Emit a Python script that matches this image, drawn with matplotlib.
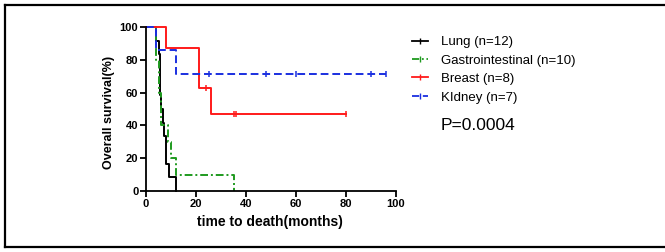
import numpy as np
import matplotlib.pyplot as plt
from matplotlib.lines import Line2D

plt.rcParams['font.family'] = ['Liberation Sans', 'DejaVu Sans']

# survival data (months, 1 = death, 0 = censored)
lung_t = [4, 5, 5.5, 5.5, 5.5, 6, 6.7, 7, 8, 8, 9, 12]
lung_e = [1, 1, 1, 1, 1, 1, 1, 1, 1, 1, 1, 1]
gi_t = [4, 4, 5, 5, 6, 6, 8.7, 10, 12, 35]
gi_e = [1, 1, 1, 1, 1, 1, 1, 1, 1, 1]
breast_t = [8, 21, 21, 24, 26, 35, 36, 80]
breast_e = [1, 1, 1, 0, 1, 0, 0, 0]
kidney_t = [4, 12, 25, 48, 60, 90, 96]
kidney_e = [1, 1, 0, 0, 0, 0, 0]

labels = ['Lung (n=12)', 'Gastrointestinal (n=10)', 'Breast (n=8)', 'KIdney (n=7)']
colors = ['black', '#1f9a1f', '#ff1a1a', '#1a2fe0']
styles = ['-', (0, (4, 1.5, 1, 1.5)), '-', (0, (4, 2))]
x_ticks = [0, 20, 40, 60, 80, 100]
y_ticks = [0, 20, 40, 60, 80, 100]
p_text = 'P=0.0004'


def km(t, e):
    t = np.array(t, float)
    e = np.array(e)
    n = len(t)
    s = 100.0
    xs, ys, cx, cy = [0], [100], [], []
    for tt in np.unique(t):
        d = np.sum((t == tt) & (e == 1))
        c = np.sum((t == tt) & (e == 0))
        if d:
            s *= 1 - d / n
        xs.append(tt)
        ys.append(s)
        if c:
            cx.append(tt)
            cy.append(s)
        n -= d + c
    return xs, ys, cx, cy


fig = plt.figure(figsize=(6.65, 2.52), dpi=100)
ax = fig.add_axes([146 / 665, 61 / 252, 250 / 665, 164 / 252])

data = [(lung_t, lung_e), (gi_t, gi_e), (breast_t, breast_e), (kidney_t, kidney_e)]
handles = []
for (t, e), lab, col, ls in zip(data, labels, colors, styles):
    xs, ys, cx, cy = km(t, e)
    ax.plot(xs, ys, drawstyle='steps-post', color=col, linestyle=ls, lw=1.4, clip_on=False)
    ax.plot(cx, cy, linestyle='none', marker='|', ms=5, mew=1.1, color=col, clip_on=False)
    handles.append(Line2D([0], [0], color=col, linestyle=ls, lw=1.3, marker='|', ms=4, mew=1))

ax.set_xlim(0, 100)
ax.set_ylim(0, 100)
ax.set_xticks(x_ticks)
ax.set_yticks(y_ticks)
for s in ['top', 'right']:
    ax.spines[s].set_visible(False)
for s in ['left', 'bottom']:
    ax.spines[s].set_linewidth(1.3)
ax.tick_params(width=1.3, length=4, labelsize=8, pad=1.5)
for lbl in ax.get_xticklabels() + ax.get_yticklabels():
    lbl.set_fontweight('bold')

ax.set_xlabel('time to death(months)', fontsize=10, fontweight='bold')
ax.set_ylabel('Overall survival(%)', fontsize=9, fontweight='bold')
ax.xaxis.set_label_coords(0.496, -0.145)
ax.yaxis.set_label_coords(-0.125, 0.476)

fig.legend(handles, labels, loc='upper left', bbox_to_anchor=(412 / 665, 1 - 36 / 252),
           frameon=False, fontsize=9.5, handlelength=1.2, handletextpad=1.0,
           labelspacing=0.47, borderpad=0, borderaxespad=0)
fig.text(441 / 665, 1 - 125 / 252, p_text, fontsize=12.5, va='center')

# outer frame
fig.add_artist(Line2D([5.5 / 665, 5.5 / 665], [1 - 5 / 252, 1 - 247 / 252], color='black', lw=1.6, transform=fig.transFigure))
fig.add_artist(Line2D([5.5 / 665, 1], [1 - 5 / 252, 1 - 5 / 252], color='black', lw=1.6, transform=fig.transFigure))
fig.add_artist(Line2D([5.5 / 665, 1], [1 - 247 / 252, 1 - 247 / 252], color='black', lw=1.6, transform=fig.transFigure))

fig.savefig('out.png', dpi=100)
